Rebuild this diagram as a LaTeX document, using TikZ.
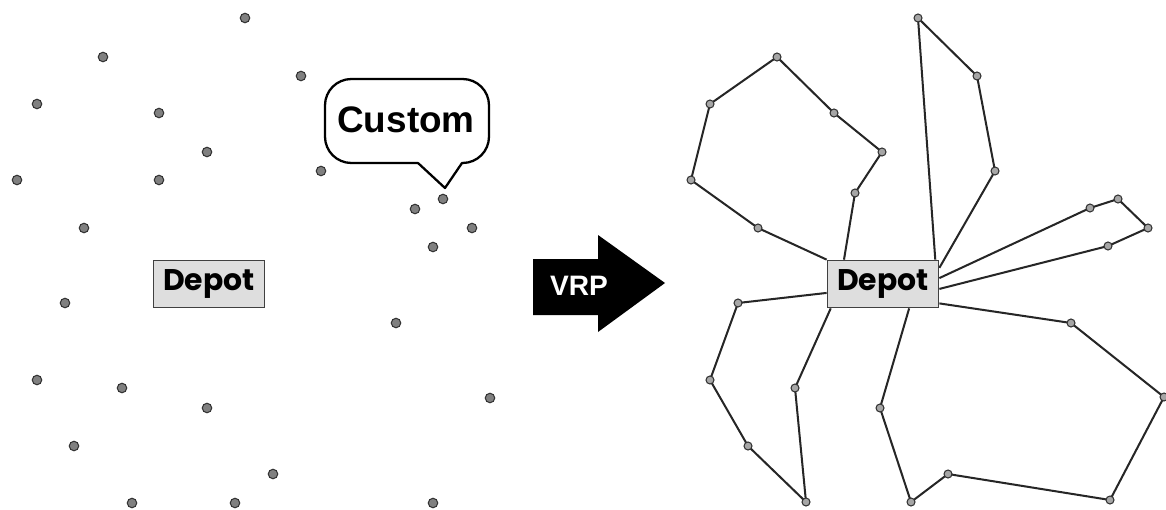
\documentclass[tikz,border=0pt]{standalone}
\usepackage{fontspec}
\setmainfont{Liberation Sans}
\newfontfamily\depotfont{Poppins}
\usetikzlibrary{calc}
\pgfdeclarelayer{bg}
\pgfsetlayers{bg,main}
\tikzset{
  dotL/.style={circle, minimum size=0.19cm, inner sep=0pt, fill=black!50, draw=black!80, line width=0.6pt},
  dotR/.style={circle, minimum size=0.16cm, inner sep=0pt, fill=black!35, draw=black!80, line width=0.6pt},
  depot/.style={rectangle, minimum width=2.22cm, minimum height=0.94cm, inner sep=0pt,
    fill=black!13, draw=black!75, line width=1pt, font=\depotfont\bfseries\fontsize{17}{17}\selectfont},
  route/.style={draw=black!85, line width=1.15pt, line join=round},
  bubble/.style={draw=black, line width=1.3pt, line join=round},
}
\begin{document}
\begin{tikzpicture}[x=0.02cm, y=-0.02cm]
\useasboundingbox (0,0) rectangle (1166,510);
% ---------- left panel ----------
\foreach \n/\x/\y in {l1/245/18, l2/103/57, l3/301/76, l4/37/104, l5/159/113, l6/207/152,
  l7/17/180, l8/159/180, l9/321/171, l10/443/199, l11/415/209, l12/472/228, l13/84/228,
  l14/433/247, l15/65/303, l16/396/323, l17/37/380, l18/122/388, l19/207/408, l20/490/398,
  l21/74/446, l22/273/474, l23/132/503, l24/235/503, l25/433/503}
  \node[dotL] (\n) at (\x,\y) {};
\node[depot] (dL) at (209,284) {Depot};
% callout
\draw[bubble] (418,163) -- (445,188) -- (462,163) [rounded corners=15] -- (489,163) -- (489,79) -- (325,79) -- (325,163) -- (418,163);
\node[font=\bfseries\fontsize{21}{21}\selectfont] (custom) at (406,120) {Custom};
% ---------- VRP arrow ----------
\fill[black] (533,259) -- (598,259) -- (598,235) -- (665,283) -- (598,332) -- (598,315) -- (533,315) -- cycle;
\node[text=white, font=\bfseries\fontsize{16}{16}\selectfont] (vrp) at (579,286) {VRP};
% ---------- right panel ----------
\foreach \n/\x/\y in {a1/918/18, a2/977/76, a3/995/171,
  p1/691/180, p2/710/104, p3/777/57, p4/834/113, p5/882/152, p6/855/193, p7/758/228,
  q1/1090/208, q2/1118/199, q3/1148/228, q4/1108/246,
  r1/738/303, r2/710/380, r3/748/446, r4/806/502, s1/795/388,
  t1/880/408, t2/911/502, t3/948/474, t4/1110/500, t5/1164/397, t6/1071/323}
  \node[dotR] (\n) at (\x,\y) {};
\node[depot] (dR) at (883,284) {Depot};
\begin{pgfonlayer}{bg}
\draw[route] (dR.north west) -- (p7.center) -- (p1.center) -- (p2.center) -- (p3.center) -- (p4.center) -- (p5.center) -- (p6.center) -- (dR.148);
\draw[route] (dR.25) -- (a1.center) -- (a2.center) -- (a3.center) -- (dR.16);
\draw[route] (dR.6) -- (q1.center) -- (q2.center) -- (q3.center) -- (q4.center) -- (dR.-5);
\draw[route] (dR.189) -- (r1.center) -- (r2.center) -- (r3.center) -- (r4.center) -- (s1.center) -- (dR.205);
\draw[route] (dR.-43) -- (t1.center) -- (t2.center) -- (t3.center) -- (t4.center) -- (t5.center) -- (t6.center) -- (dR.-19);
\end{pgfonlayer}
\end{tikzpicture}
\end{document}
